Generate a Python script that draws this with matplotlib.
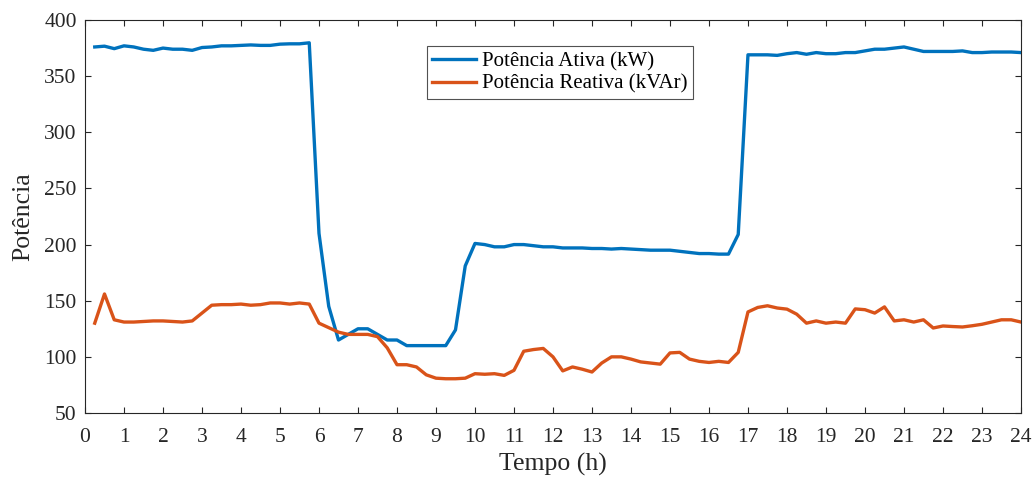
import numpy as np
import matplotlib
matplotlib.use("Agg")
import matplotlib.pyplot as plt

plt.rcParams['font.family'] = ['Liberation Serif', 'DejaVu Serif']

# time in hours, 15-min steps
tempo = np.arange(1, 97) * 0.25

ativa = [376, 376.7, 374.5, 377, 376, 374, 373, 375, 374, 374, 373, 375.5,
         376, 377, 377, 377.4, 377.8, 377.4, 377.4, 378.5, 378.8, 378.8, 379.7, 210,
         145, 115, 120, 125, 125, 120, 115, 115, 110, 110, 110, 110,
         110, 124, 181, 201, 200, 198, 198, 200, 200, 199, 198, 198,
         197, 197, 197, 196.5, 196.5, 196, 196.5, 196, 195.5, 195, 195, 195,
         194, 193, 192, 192, 191.5, 191.5, 209, 369, 369, 369, 368.5, 370,
         371, 369.5, 371, 370, 370, 371, 371, 372.5, 374, 374, 375, 376,
         374, 372, 372, 372, 372, 372.5, 371, 371, 371.5, 371.5, 371.5, 371]

reativa = [130, 156, 133, 131, 131, 131.5, 132, 132, 131.5, 131, 132, 139,
           146, 146.5, 146.5, 147, 146, 146.5, 148, 148, 147, 148, 147, 130,
           126, 122, 120, 120, 120, 118, 108, 93, 93, 91, 84, 81,
           80.5, 80.5, 81, 85, 84.5, 85, 83.5, 88, 105, 106.5, 107.5, 100,
           87.5, 91, 89, 86.5, 94.5, 100, 100, 98, 95.5, 94.5, 93.5, 103.5,
           104, 98, 96, 95, 96, 95, 104, 140, 144, 145.5, 143.5, 142.5,
           138, 130, 132, 130, 131, 130, 142.7, 142, 139, 144.5, 132, 133,
           131, 133, 125.7, 127.5, 127, 126.6, 127.7, 129, 131, 133, 133, 131]

fig = plt.figure(figsize=(10.34, 4.8), dpi=100)
ax = fig.add_axes([0.0822, 0.1396, 0.9052, 0.8187])

ax.plot(tempo, ativa, color='#0072BD', lw=2.4, label='Potência Ativa (kW)')
ax.plot(tempo, reativa, color='#D95319', lw=2.4, label='Potência Reativa (kVAr)')

ax.set_xlim(0, 24)
ax.set_ylim(50, 400)
ax.set_xticks(range(0, 25))
ax.set_yticks(range(50, 401, 50))
ax.tick_params(direction='in', top=True, right=True, length=4, labelsize=15.5,
               color='#262626', labelcolor='#262626')
ax.tick_params(axis='x', pad=11)
ax.tick_params(axis='y', pad=6)
for s in ax.spines.values():
    s.set_color('#262626')
    s.set_linewidth(0.8)

ax.set_xlabel('Tempo (h)', fontsize=18.5, labelpad=4, color='#262626')
ax.set_ylabel('Potência', fontsize=18.5, labelpad=7, color='#262626')

leg = ax.legend(loc='upper left', bbox_to_anchor=(0.3655, 0.933), fontsize=15,
                frameon=True, fancybox=False, handlelength=2.1,
                borderpad=0.25, labelspacing=0.15, handletextpad=0.3,
                borderaxespad=0)
leg.get_frame().set_edgecolor('#262626')
leg.get_frame().set_linewidth(0.8)

fig.savefig('out.png', dpi=100)
